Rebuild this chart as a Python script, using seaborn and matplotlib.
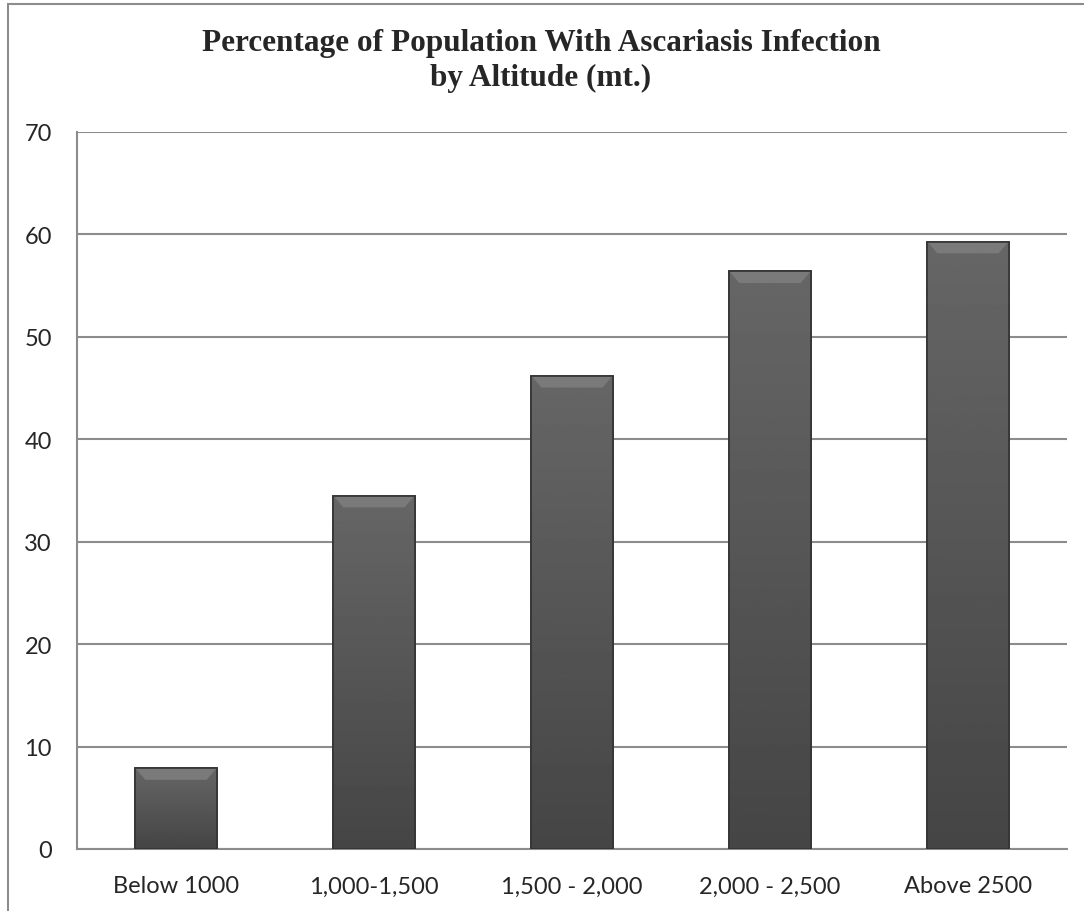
import matplotlib
matplotlib.use("Agg")
import numpy as np
import matplotlib.pyplot as plt
import seaborn as sns
import pandas as pd
from matplotlib.patches import Rectangle, Polygon

# data
altitude = ['Below 1000', '1,000-1,500', '1,500 - 2,000', '2,000 - 2,500', 'Above 2500']
infected_pct = [7.9, 34.5, 46.2, 56.4, 59.3]
y_ticks = [0, 10, 20, 30, 40, 50, 60, 70]

df = pd.DataFrame({'altitude': altitude, 'pct': infected_pct})

sns.set_style('white')
plt.rcParams['font.family'] = ['Lato', 'DejaVu Sans']

fig = plt.figure(figsize=(10.84, 9.12), dpi=100)
ax = fig.add_axes([0.0710, 0.0680, 0.9133, 0.7862])

sns.barplot(data=df, x='altitude', y='pct', color='#5f5f5f', width=0.41,
            edgecolor='#333333', linewidth=1.2, saturation=1, ax=ax, zorder=3)

ax.set_ylim(0, 70)
ax.set_xlim(-0.5, len(altitude) - 0.5)
ax.set_yticks(y_ticks)
ax.set_xlabel('')
ax.set_ylabel('')
ax.yaxis.grid(True, color='#8c8c8c', linewidth=1.5, zorder=0)
ax.set_axisbelow(True)
for side in ['top', 'right']:
    ax.spines[side].set_visible(False)
for side in ['left', 'bottom']:
    ax.spines[side].set_color('#8c8c8c')
    ax.spines[side].set_linewidth(1.5)
ax.tick_params(axis='y', length=0, pad=18, labelsize=17)
ax.tick_params(axis='x', length=0, pad=19, labelsize=17)

# bevel look: vertical shading inside each bar plus a lighter top chamfer
grad = np.linspace(0.40, 0.27, 256).reshape(-1, 1)
bevel_h = 1.15   # about 12 px
inset = 0.05
for bar in list(ax.patches):
    x0, w, h = bar.get_x(), bar.get_width(), bar.get_height()
    img = ax.imshow(grad, cmap='gray', vmin=0, vmax=1, aspect='auto',
                    extent=(x0, x0 + w, 0, h), zorder=3.5, origin='upper')
    img.set_clip_path(bar)
    ax.add_patch(Polygon([(x0, h), (x0 + w, h), (x0 + w - inset, h - bevel_h),
                          (x0 + inset, h - bevel_h)], closed=True,
                         facecolor='#7a7a7a', edgecolor='none', zorder=3.6))
    ax.add_patch(Rectangle((x0, 0), w, h, fill=False, edgecolor='#333333',
                           linewidth=1.2, zorder=3.7))

fig.text(0.499, 0.9326, 'Percentage of Population With Ascariasis Infection\nby Altitude (mt.)',
         ha='center', va='center', fontsize=22.5, fontweight='bold',
         family='Liberation Serif', linespacing=1.27)

# chart-area border (cut off at right and bottom in the reference)
fig.patches.append(Rectangle((0.0074, -0.1), 1.2, 1.0945, transform=fig.transFigure,
                             fill=False, edgecolor='#8c8c8c', linewidth=1.5))

fig.savefig('out.png', dpi=100)
